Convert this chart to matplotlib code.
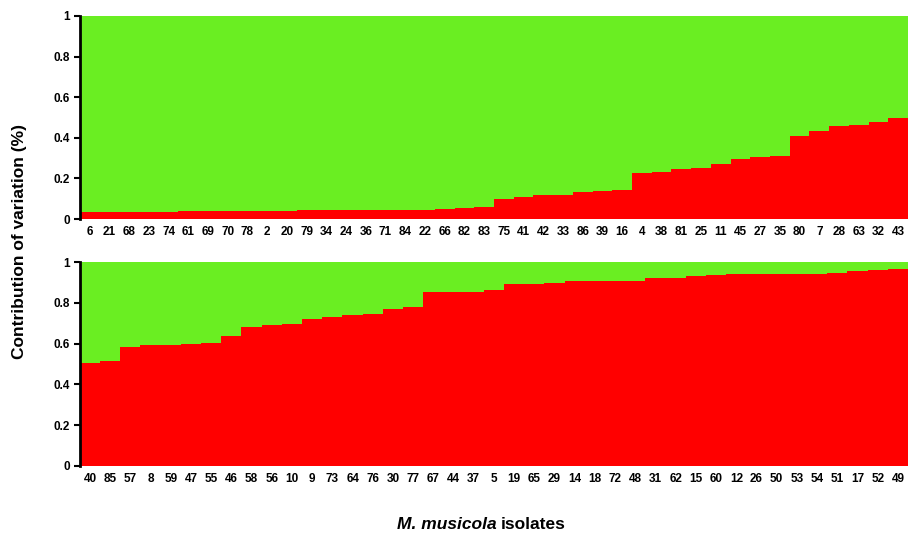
import matplotlib.pyplot as plt

plt.rcParams['font.family'] = ['Liberation Sans', 'DejaVu Sans']

# --- data ---
top_labels = ['6', '21', '68', '23', '74', '61', '69', '70', '78', '2',
              '20', '79', '34', '24', '36', '71', '84', '22', '66', '82',
              '83', '75', '41', '42', '33', '86', '39', '16', '4', '38',
              '81', '25', '11', '45', '27', '35', '80', '7', '28', '63',
              '32', '43']
top_red = [0.035, 0.036, 0.036, 0.037, 0.037, 0.038, 0.038, 0.039, 0.040, 0.041,
           0.042, 0.043, 0.044, 0.045, 0.045, 0.046, 0.046, 0.047, 0.048, 0.055,
           0.057, 0.100, 0.110, 0.118, 0.120, 0.133, 0.138, 0.143, 0.225, 0.233,
           0.246, 0.250, 0.270, 0.295, 0.304, 0.310, 0.407, 0.435, 0.458, 0.463,
           0.476, 0.496]

bottom_labels = ['40', '85', '57', '8', '59', '47', '55', '46', '58', '56',
                 '10', '9', '73', '64', '76', '30', '77', '67', '44', '37',
                 '5', '19', '65', '29', '14', '18', '72', '48', '31', '62',
                 '15', '60', '12', '26', '50', '53', '54', '51', '17', '52',
                 '49']
bottom_red = [0.507, 0.515, 0.583, 0.592, 0.593, 0.598, 0.601, 0.636, 0.681, 0.694,
              0.698, 0.722, 0.732, 0.739, 0.745, 0.771, 0.778, 0.853, 0.855, 0.855,
              0.866, 0.894, 0.895, 0.900, 0.907, 0.908, 0.908, 0.910, 0.922, 0.925,
              0.931, 0.936, 0.940, 0.941, 0.941, 0.943, 0.943, 0.948, 0.956, 0.961,
              0.967]

red = '#ff0000'
green = '#6aee22'

fig = plt.figure(figsize=(9.08, 5.33), dpi=100)
ax_top = fig.add_axes([0.088, 0.589, 0.912, 0.381])
ax_bot = fig.add_axes([0.088, 0.126, 0.912, 0.382])


def draw_panel(ax, labels, vals):
    x = list(range(len(labels)))
    rest = [1 - v for v in vals]
    ax.bar(x, vals, width=1.0, color=red, linewidth=0)
    ax.bar(x, rest, width=1.0, bottom=vals, color=green, linewidth=0)
    ax.set_xlim(-0.5, len(labels) - 0.5)
    ax.set_ylim(0, 1)
    ax.set_yticks([0, 0.2, 0.4, 0.6, 0.8, 1])
    ax.set_yticklabels(['0', '0.2', '0.4', '0.6', '0.8', '1'])
    ax.set_xticks(x)
    ax.set_xticklabels(labels)
    for s in ['top', 'right', 'bottom']:
        ax.spines[s].set_visible(False)
    ax.spines['left'].set_linewidth(2)
    ax.tick_params(axis='y', length=4, width=1.5, labelsize=8.5, pad=3)
    ax.tick_params(axis='x', length=0, labelsize=8.5, pad=5)
    for t in ax.get_xticklabels() + ax.get_yticklabels():
        t.set_fontweight('bold')


draw_panel(ax_top, top_labels, top_red)
draw_panel(ax_bot, bottom_labels, bottom_red)

fig.text(0.022, 0.546, 'Contribution of variation (%)', rotation=90,
         ha='center', va='center', fontsize=12.5, fontweight='bold')

# x label: italic species name followed by plain bold word
t1 = fig.text(0.437, 0.016, 'M. musicola', ha='left', va='center',
              fontsize=12.5, fontweight='bold', fontstyle='italic')
fig.canvas.draw()
bb = t1.get_window_extent()
x_next = (bb.x1 + 4) / fig.bbox.width
fig.text(x_next, 0.016, 'isolates', ha='left', va='center',
         fontsize=12.5, fontweight='bold')

fig.savefig('out.png', dpi=100)
